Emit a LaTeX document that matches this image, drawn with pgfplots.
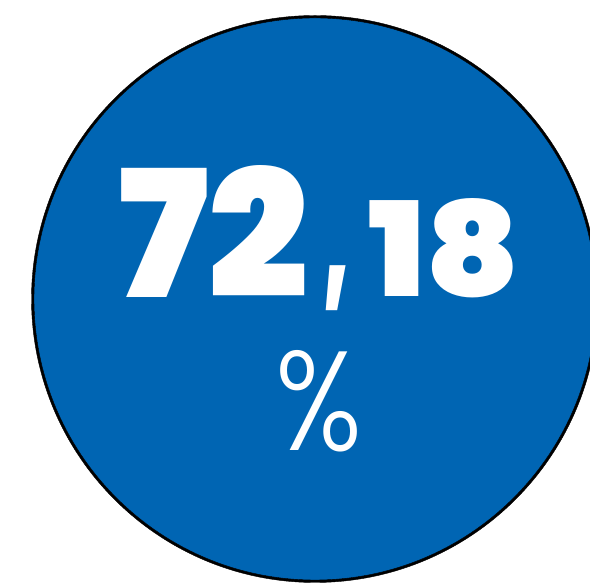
\documentclass[border=0pt]{standalone}
\usepackage{pgfplots}
\pgfplotsset{compat=1.18}
\usepackage{fontspec}
\setmainfont{Poppins}
\newfontfamily\numfont{Poppins}[UprightFont=* Black]
\newfontfamily\pctfont{Poppins}[UprightFont=* Light]
\definecolor{circblue}{RGB}{0,101,179}

\begin{document}
\begin{tikzpicture}
    \begin{axis}[
        x=1pt, y=1pt,
        xmin=0, xmax=590,
        ymin=0, ymax=583,
        hide axis,
        clip marker paths=true,
    ]
    % the disc: one point, drawn as a large mark; black one below for the rim
    \addplot[only marks, mark=*, mark size=283.5pt,
        mark options={fill=black, draw=none}]
        coordinates {(315,284)};
    \addplot[only marks, mark=*, mark size=281pt,
        mark options={fill=circblue, draw=none}]
        coordinates {(315,284)};

    \node[anchor=south west, inner sep=0, text=white] at (axis cs:118,285)
        {\resizebox{190pt}{132pt}{\numfont 72}};
    \node[anchor=north west, inner sep=0, text=white] at (axis cs:322,318)
        {\resizebox*{28pt}{45pt}{\numfont ,}};
    \node[anchor=south west, inner sep=0, text=white] at (axis cs:368,285)
        {\resizebox{152pt}{98pt}{\numfont 18}};
    \node[anchor=south west, inner sep=0, text=white] at (axis cs:275,131)
        {\resizebox{87pt}{100pt}{\pctfont\%}};
    \end{axis}
    \pgfresetboundingbox
    \path (0,0) rectangle (590pt,583pt);
\end{tikzpicture}
\end{document}
